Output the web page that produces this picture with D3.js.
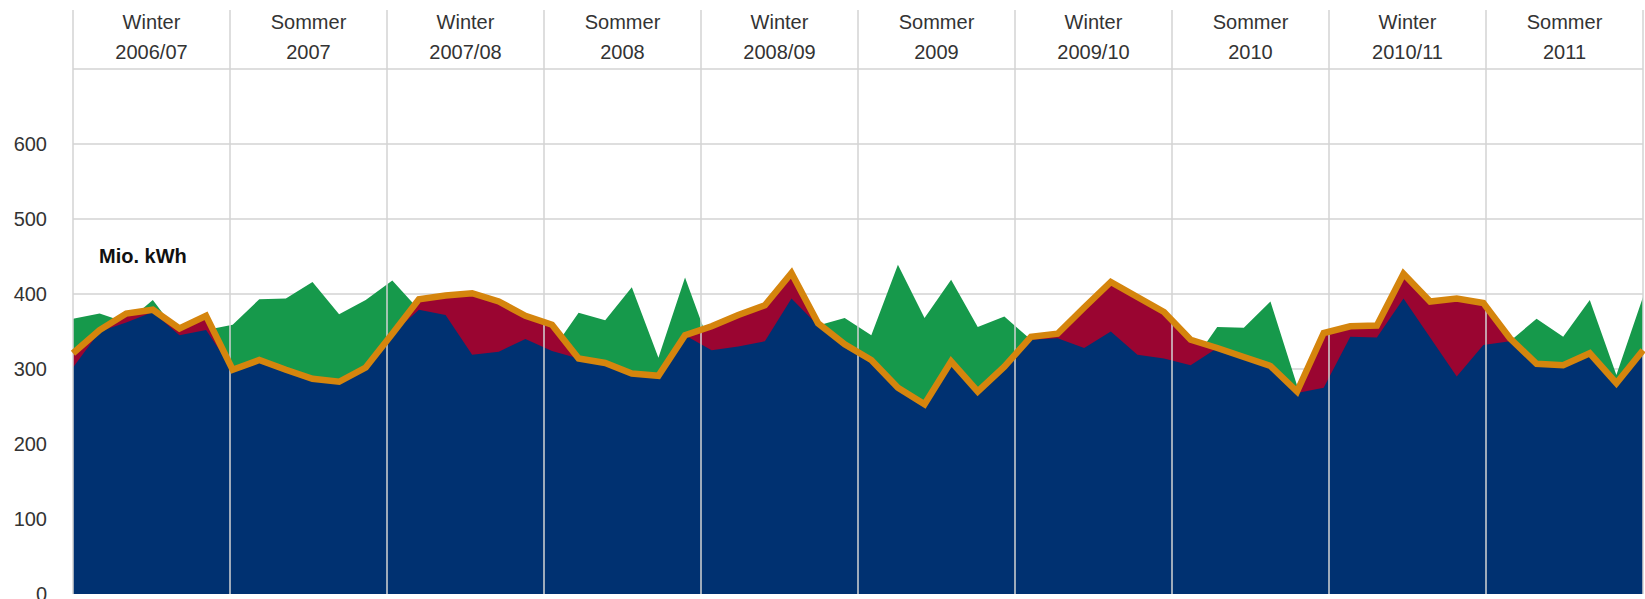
<!DOCTYPE html>
<html>
<head>
<meta charset="utf-8">
<script src="https://cdn.jsdelivr.net/npm/d3@7"></script>
<style>
  html, body { margin: 0; padding: 0; background: #fff; }
  svg { display: block; }
  text { font-family: "Liberation Sans", Arial, Helvetica, sans-serif; }
</style>
</head>
<body>
<svg id="chart" width="1645" height="599"></svg>
<script>
// Half-year periods (column headers)
const periodTop = ["Winter", "Sommer", "Winter", "Sommer", "Winter", "Sommer", "Winter", "Sommer", "Winter", "Sommer"];
const periodBottom = ["2006/07", "2007", "2007/08", "2008", "2008/09", "2009", "2009/10", "2010", "2010/11", "2011"];

// Y-axis tick labels
const yTicks = [0, 100, 200, 300, 400, 500, 600];
const yGrid = [100, 200, 300, 400, 500, 600, 700];

// Monthly values, Mio. kWh (60 months)
// Production (top of green area)
const production = [367, 374, 362, 392, 345, 352, 359, 393, 394, 416,
                    373, 392, 418, 379, 372, 319, 323, 340, 324, 375,
                    365, 409, 315, 422, 325, 330, 337, 394, 358, 368,
                    345, 439, 368, 419, 356, 370, 339, 341, 328, 350,
                    319, 314, 305, 356, 355, 390, 278, 275, 343, 342,
                    394, 342, 290, 332, 337, 367, 343, 392, 292, 396];
// Consumption (orange line, top of red area)
const consumption = [321, 352, 374, 379, 354, 371, 299, 312, 299, 287,
                     283, 302, 347, 393, 398, 401, 390, 371, 359, 314,
                     308, 294, 291, 345, 357, 372, 385, 428, 361, 333,
                     312, 275, 253, 310, 270, 303, 343, 347, 382, 416,
                     396, 376, 339, 328, 316, 304, 270, 348, 357, 358,
                     427, 390, 394, 388, 341, 307, 305, 321, 281, 325];
// Domestic share (top of blue area)
const domestic = [302, 350, 362, 376, 345, 352, 299, 312, 299, 287,
                  283, 302, 347, 379, 372, 319, 323, 340, 324, 314,
                  308, 294, 291, 345, 325, 330, 337, 394, 358, 333,
                  312, 275, 253, 310, 270, 303, 339, 341, 328, 350,
                  319, 314, 305, 328, 316, 304, 268, 275, 343, 342,
                  394, 342, 290, 332, 337, 307, 305, 321, 281, 325];

const colors = { blue: "#003171", green: "#16994b", red: "#9a0531", orange: "#d5850d", grid: "#d3d3d3", text: "#333" };

const svg = d3.select("#chart");
const mLeft = 73, mRight = 1643, mTop = 69, mBottom = 594, headerTop = 10;

const x = d3.scaleLinear().domain([0, production.length - 1]).range([mLeft, mRight]);
const y = d3.scaleLinear().domain([0, 700]).range([mBottom, mTop]);
const band = d3.scaleBand().domain(d3.range(periodTop.length)).range([mLeft, mRight]).padding(0);

// Horizontal gridlines (behind areas)
svg.append("g").selectAll("line").data(yGrid).join("line")
  .attr("x1", mLeft).attr("x2", mRight)
  .attr("y1", d => y(d)).attr("y2", d => y(d))
  .attr("stroke", colors.grid).attr("stroke-width", 1.5);

const idx = d3.range(production.length);
const area = (arr) => d3.area().x(i => x(i)).y0(y(0)).y1(i => y(arr[i]));

svg.append("path").datum(idx).attr("d", area(production)).attr("fill", colors.green);
svg.append("path").datum(idx).attr("d", area(consumption)).attr("fill", colors.red);
svg.append("path").datum(idx).attr("d", area(domestic)).attr("fill", colors.blue);

// Vertical period gridlines (on top)
const bounds = d3.range(periodTop.length + 1).map(k => k < periodTop.length ? band(k) : mRight);
svg.append("g").selectAll("line").data(bounds).join("line")
  .attr("x1", d => d).attr("x2", d => d)
  .attr("y1", headerTop).attr("y2", mBottom)
  .attr("stroke", colors.grid).attr("stroke-width", 1.5);

// Consumption line
svg.append("path").datum(idx)
  .attr("d", d3.line().x(i => x(i)).y(i => y(consumption[i])))
  .attr("fill", "none").attr("stroke", colors.orange)
  .attr("stroke-width", 6.5).attr("stroke-linejoin", "miter").attr("stroke-miterlimit", 10);

// Header labels
const hdr = svg.append("g").selectAll("g").data(d3.range(periodTop.length)).join("g")
  .attr("transform", d => `translate(${band(d) + band.bandwidth() / 2},0)`);
hdr.append("text").attr("y", 29).attr("text-anchor", "middle")
  .attr("font-size", 20).attr("fill", colors.text).text(d => periodTop[d]);
hdr.append("text").attr("y", 59).attr("text-anchor", "middle")
  .attr("font-size", 20).attr("fill", colors.text).text(d => periodBottom[d]);

// Y axis labels
svg.append("g").selectAll("text").data(yTicks).join("text")
  .attr("x", 47).attr("y", d => y(d)).attr("dy", "0.36em")
  .attr("text-anchor", "end").attr("font-size", 20).attr("fill", colors.text)
  .text(d => d);

// Unit label
svg.append("text").attr("x", 99).attr("y", 263)
  .attr("font-size", 20).attr("font-weight", "bold").attr("fill", "#111")
  .text("Mio. kWh");
</script>
</body>
</html>
